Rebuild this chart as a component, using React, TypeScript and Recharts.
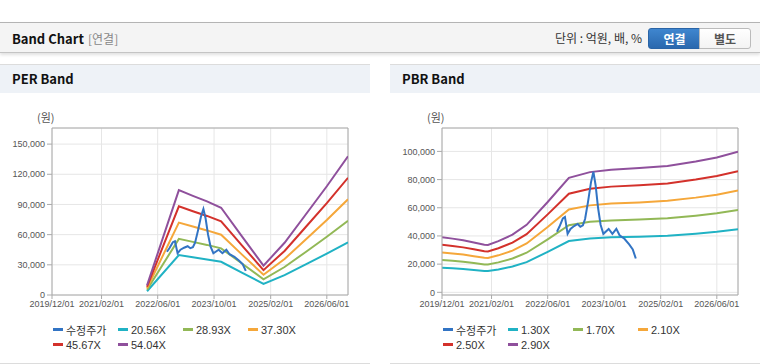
import { LineChart, Line, XAxis, YAxis, CartesianGrid, ReferenceLine } from "recharts"

// x axis (shared by both charts)
const xStart = "2019/12/01"
const xEnd = "2026/12/01"
const xTickDates = ["2019/12/01", "2021/02/01", "2022/06/01", "2023/10/01", "2025/02/01", "2026/06/01"]

// 수정주가 (adjusted price)
const priceDates = [
    "2022/08/20", "2022/09/10", "2022/10/10", "2022/10/28", "2022/11/20", "2022/12/15",
    "2023/01/15", "2023/02/15", "2023/03/10", "2023/04/01", "2023/04/20", "2023/05/15",
    "2023/06/10", "2023/07/01", "2023/07/20", "2023/08/10", "2023/09/01", "2023/09/25",
    "2023/11/10", "2023/12/12", "2024/01/15", "2024/02/12", "2024/03/25", "2024/05/05",
    "2024/06/05", "2024/07/01",
]
const priceValues = [
    43000, 46500, 52500, 53500, 41500, 45000,
    47000, 48500, 46500, 47500, 52000, 64000,
    78000, 85500, 76000, 60000, 48000, 41500,
    45000, 41500, 45000, 40500, 38000, 34000,
    30500, 24000,
]

// PER band
const perDates = [
    "2022/03/01", "2022/12/01", "2023/04/01", "2023/08/01", "2023/12/01", "2024/06/01",
    "2024/12/01", "2025/06/01", "2025/12/01", "2026/06/01", "2026/12/01",
]
const per2056 = [3700, 39700, 37500, 35400, 33000, 22000, 11100, 19700, 30400, 41100, 52400]
const per2893 = [5200, 55800, 52800, 49800, 46400, 31000, 15600, 27800, 42800, 57900, 73800]
const per3730 = [6700, 72000, 68100, 64200, 59900, 39900, 20100, 35800, 55200, 74600, 95100]
const per4567 = [8200, 88100, 83300, 78600, 73300, 48900, 24700, 43800, 67600, 91300, 116500]
const per5404 = [9700, 104300, 98600, 93000, 86700, 57800, 29200, 51900, 80000, 108100, 137800]
const perLabels = ["20.56X", "28.93X", "37.30X", "45.67X", "54.04X"]
const perTicks = [0, 30000, 60000, 90000, 120000, 150000]

// PBR band
const pbrDates = [
    "2019/12/01", "2020/03/01", "2020/06/01", "2020/09/01", "2020/12/01", "2021/01/01",
    "2021/04/01", "2021/08/01", "2021/12/01", "2022/06/01", "2022/12/01", "2023/06/01",
    "2023/12/01", "2024/08/01", "2025/04/01", "2025/12/01", "2026/06/01", "2026/12/01",
]
const pbr130 = [17500, 17100, 16600, 15900, 15100, 15100, 16250, 18300, 21450, 28700, 36400, 38200, 39000, 39500, 40200, 41600, 42900, 44700]
const pbr170 = [22900, 22400, 21700, 20740, 19800, 19700, 21250, 24000, 28100, 37600, 47600, 50000, 51000, 51700, 52500, 54400, 56100, 58500]
const pbr210 = [28300, 27600, 26800, 25600, 24500, 24400, 26250, 29600, 34700, 46400, 58800, 61700, 63000, 63800, 64900, 67200, 69300, 72200]
const pbr250 = [33700, 32900, 31900, 30500, 29100, 29000, 31300, 35300, 41300, 55300, 70000, 73500, 75000, 76000, 77300, 80000, 82500, 86000]
const pbr290 = [39100, 38100, 37000, 35400, 33800, 33600, 36300, 40900, 47900, 64100, 81200, 85300, 87000, 88200, 89600, 92800, 95700, 99800]
const pbrLabels = ["1.30X", "1.70X", "2.10X", "2.50X", "2.90X"]
const pbrTicks = [0, 20000, 40000, 60000, 80000, 100000]

const priceColor = "#3274c4"
const bandColors = ["#20b2c4", "#92b856", "#f5a73a", "#d3312b", "#8f509c"]

const toT = (s: string) => {
    const [y, m, d] = s.split("/").map(Number)
    return Date.UTC(y, m - 1, d)
}
const pad = (n: number) => (n < 10 ? "0" + n : "" + n)
const fmtDate = (t: number) => {
    const d = new Date(t)
    return `${d.getUTCFullYear()}/${pad(d.getUTCMonth() + 1)}/${pad(d.getUTCDate())}`
}
const fmtNum = (v: number) => String(v).replace(/\B(?=(\d{3})+(?!\d))/g, ",")
const series = (dates: string[], values: number[]) => dates.map((d, i) => ({ t: toT(d), v: values[i] }))

const tStart = toT(xStart)
const tEnd = toT(xEnd)
const xTicks = xTickDates.map(toT)
const priceData = series(priceDates, priceValues)

const tickStyle = { fontSize: 9, fill: "#555", fontFamily: "'Liberation Sans', Arial, sans-serif" }

function Band({ left, title, dates, bands, labels, yDomain, yTicks }: any) {
    const legend = [{ name: "수정주가", color: priceColor }].concat(
        labels.map((l: string, i: number) => ({ name: l, color: bandColors[i] }))
    )
    return (
        <div style={{ position: "absolute", left, top: 64, width: 370, height: 300 }}>
            <div style={{ height: 28, borderTop: "1px solid #dcdcdc", background: "#eef2f7", paddingLeft: 12, lineHeight: "28px", fontWeight: 700, fontSize: 13, color: "#111" }}>
                {title}
            </div>
            <div style={{ position: "absolute", left: 37, top: 45, fontSize: 11, color: "#555" }}>(원)</div>
            <div style={{ position: "absolute", left: 0, top: 36 }}>
                <LineChart width={370} height={220} margin={{ top: 28, right: 22, left: 0, bottom: 0 }}>
                    <CartesianGrid stroke="#e6e6e6" />
                    <XAxis
                        dataKey="t"
                        type="number"
                        domain={[tStart, tEnd]}
                        ticks={xTicks}
                        tickFormatter={fmtDate}
                        allowDataOverflow
                        height={25}
                        tickSize={4}
                        stroke="#aaa"
                        tick={tickStyle}
                        interval={0}
                    />
                    <YAxis
                        type="number"
                        domain={yDomain}
                        ticks={yTicks}
                        tickFormatter={fmtNum}
                        allowDataOverflow
                        width={52}
                        tickSize={5}
                        stroke="#aaa"
                        tick={tickStyle}
                        interval={0}
                    />
                    <ReferenceLine x={tEnd} stroke="#aaa" />
                    <ReferenceLine y={yDomain[1]} stroke="#aaa" />
                    {bands.map((vals: number[], i: number) => (
                        <Line
                            key={labels[i]}
                            data={series(dates, vals)}
                            dataKey="v"
                            stroke={bandColors[i]}
                            strokeWidth={2}
                            dot={false}
                            isAnimationActive={false}
                        />
                    ))}
                    <Line data={priceData} dataKey="v" stroke={priceColor} strokeWidth={2} dot={false} isAnimationActive={false} />
                </LineChart>
            </div>
            <div style={{ position: "absolute", left: 53, top: 258, width: 270, display: "flex", flexWrap: "wrap", rowGap: 0 }}>
                {legend.map((item) => (
                    <div key={item.name} style={{ width: 65, height: 15, display: "flex", alignItems: "center", fontSize: 11, color: "#333", fontFamily: "'Liberation Sans', 'Noto Sans CJK KR', sans-serif" }}>
                        <span style={{ display: "inline-block", width: 10, height: 3, background: item.color, marginRight: 3 }} />
                        {item.name}
                    </div>
                ))}
            </div>
            <div style={{ position: "absolute", left: 0, top: 299, width: 370, height: 1, background: "#dcdcdc" }} />
        </div>
    )
}

export default function App() {
    return (
        <div style={{ position: "relative", width: 760, height: 364, overflow: "hidden", background: "#fff", fontFamily: "'Noto Sans CJK KR', sans-serif" }}>
            <style>{"body{margin:0}"}</style>
            <div style={{ position: "absolute", left: 0, top: 22, width: 760, height: 29, borderTop: "1px solid #b4b4b4", borderBottom: "1px solid #c4c4c4", background: "#f4f4f4", boxShadow: "0 2px 3px rgba(0,0,0,0.12)" }}>
                <span style={{ position: "absolute", left: 12, top: 6, fontWeight: 700, fontSize: 13, color: "#111" }}>Band Chart</span>
                <span style={{ position: "absolute", left: 88, top: 7, fontSize: 12, color: "#888" }}>[연결]</span>
                <span style={{ position: "absolute", right: 118, top: 6, fontSize: 12, color: "#333" }}>단위 : 억원, 배, %</span>
                <div style={{ position: "absolute", left: 648, top: 5, width: 51, height: 19, background: "linear-gradient(#3f86cf, #2a68ae)", border: "1px solid #2a64a6", borderRadius: "3px 0 0 3px", color: "#fff", fontWeight: 700, fontSize: 12, textAlign: "center", lineHeight: "19px" }}>연결</div>
                <div style={{ position: "absolute", left: 699, top: 5, width: 50, height: 19, background: "linear-gradient(#fff, #f3f3f3)", border: "1px solid #bbb", borderRadius: "0 3px 3px 0", color: "#555", fontWeight: 700, fontSize: 12, textAlign: "center", lineHeight: "19px" }}>별도</div>
            </div>
            <Band
                left={0}
                title="PER Band"
                dates={perDates}
                bands={[per2056, per2893, per3730, per4567, per5404]}
                labels={perLabels}
                yDomain={[0, 166000]}
                yTicks={perTicks}
            />
            <Band
                left={390}
                title="PBR Band"
                dates={pbrDates}
                bands={[pbr130, pbr170, pbr210, pbr250, pbr290]}
                labels={pbrLabels}
                yDomain={[-1900, 116600]}
                yTicks={pbrTicks}
            />
        </div>
    )
}
